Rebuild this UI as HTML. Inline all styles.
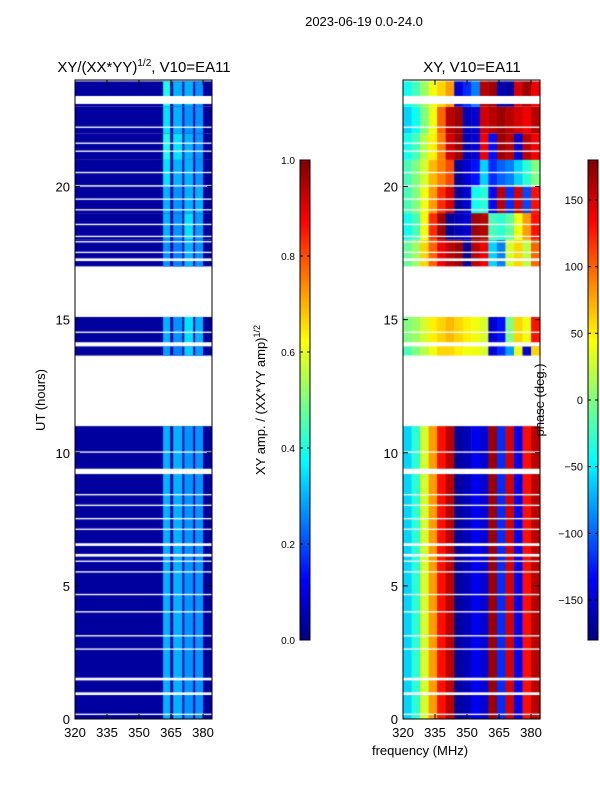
<!DOCTYPE html>
<html><head><meta charset="utf-8"><style>
html,body{margin:0;padding:0;background:#fff;}
#wrap{position:relative;width:600px;height:800px;overflow:hidden;font-family:"Liberation Sans",sans-serif;}
canvas{position:absolute;left:0;top:0;}
svg{position:absolute;left:0;top:0;}
</style></head><body>
<div id="wrap">
<canvas id="cv" width="600" height="800"></canvas>
<svg id="sv" width="600" height="800"></svg>
</div>
<script>
// ---- data ----
const hours = [0,1,2,3,4,5,6,7,8,9,10,11,12,13,14,15,16,17,18,19,20,21,22,23];
const phaseBinsMHz = [320,324,328,332,336,340,344,348,352,356,360,364,368,372,376,380];
const phase = [
 [-60,-40,0,40,90,140,170,-170,-150,-130,150,-100,80,-60,120,30],
 [-90,-60,-20,30,80,130,160,-170,-140,-120,100,-150,160,40,-80,140],
 [-40,-30,-10,30,80,130,160,-170,-150,-130,140,-120,60,-40,90,-100],
 [-30,-20,0,40,90,140,170,-160,-140,-110,-60,60,120,20,100,-30],
 [-30,-25,0,40,100,150,170,-160,-140,-100,30,90,-60,40,80,-20],
 [-40,-30,0,40,100,150,175,-160,-140,-90,120,60,-100,80,40,-60],
 [-30,-20,10,50,110,150,175,-170,-150,-120,140,-130,90,-150,120,-90],
 [-50,-40,0,50,110,150,170,-170,-150,-140,-120,160,140,-150,130,150],
 [-50,-30,10,60,110,150,170,-170,-150,-140,130,-140,150,-120,160,140],
 [-40,-20,20,70,120,150,170,-170,-150,-160,140,-130,40,-160,100,20],
 [-60,-30,30,80,130,160,-170,-160,-140,-150,170,-120,150,-140,130,160],
 null, null,
 [-20,0,20,40,60,60,50,40,40,30,-150,-120,-80,40,-150,60],
 [0,10,30,50,60,70,60,50,40,30,-150,-130,0,60,40,130],
 null, null,
 [-10,10,60,100,140,160,170,-170,160,140,-60,-90,30,60,20,100],
 [-40,-20,40,120,170,-170,-160,-150,170,160,-20,-30,-10,40,80,130],
 [-20,0,40,80,120,150,-170,-150,-40,-30,-140,160,-120,150,-110,130],
 [-20,0,30,70,90,110,-170,-150,-130,-60,-120,-100,-90,-60,-30,0],
 [-40,-20,20,50,90,150,170,-160,-150,140,-130,170,160,-150,160,140],
 [-60,-40,0,40,100,160,170,-160,-150,150,160,170,160,150,140,160],
 [-40,-20,10,40,60,80,-150,-120,-90,160,170,-160,-170,150,170,140]
];
const stripeStart = [361.3,366.0,371.2,376.3];
const stripeEnd = [364.6,370.3,375.4,380.0];
const ampBackground = 0.03;
const amp = [
 [.4,.35,.3,.28],[.45,.4,.35,.3],[.4,.35,.35,.28],[.35,.4,.3,.28],[.35,.3,.35,.28],
 [.3,.35,.28,.27],[.3,.35,.3,.27],[.35,.4,.3,.28],[.3,.27,.3,.25],[.3,.35,.3,.27],
 [.3,.3,.27,.27],null,null,[.28,.25,.33,.28],[.3,.27,.35,.3],null,null,
 [.27,.25,.3,.27],[.3,.27,.35,.28],[.3,.27,.3,.3],[.35,.3,.3,.27],[.4,.35,.3,.27],
 [.35,.3,.27,.27],[.4,.3,.3,.27]
];
const dataStart = [0,0,0,0,0,0,0,0,0,0,0,null,null,13.65,14,null,null,17,18,19,20,21,22,23];
const dataEnd =   [1,2,3,4,5,6,7,8,9,10,11,null,null,14,15.1,null,null,18,19,20,21,22,23,23.95];
const gaps = [[0.15,0.2],[0.9,1.0],[1.45,1.55],[2.6,2.65],[3.1,3.15],[4.0,4.05],[4.65,4.7],[5.5,5.55],[5.9,5.95],[6.1,6.2],[6.5,6.6],[7.1,7.15],[7.5,7.55],[8.0,8.05],[8.4,8.45],[9.2,9.4],[10.0,10.05],[14.0,14.15],[14.5,14.55],[17.2,17.3],[17.5,17.55],[17.9,17.95],[18.1,18.15],[18.55,18.6],[19.1,19.15],[19.5,19.55],[20.0,20.05],[20.5,20.55],[21.3,21.35],[21.6,21.65],[22.2,22.25],[23.1,23.4]];
const xTicks = [320,335,350,365,380];
const yTicks = [0,5,10,15,20];
const ampTicks = [0.0,0.2,0.4,0.6,0.8,1.0];
const phTicks = [-150,-100,-50,0,50,100,150];

// ---- geometry ----
const L = {x0:75,x1:212}, R = {x0:403,x1:540}, yTop=80, yBot=719;
const fMin=320, fMax=384.2, tMin=0, tMax=24;
function xs(p,f){return p.x0+(f-fMin)/(fMax-fMin)*(p.x1-p.x0);}
function ys(t){return yBot-(t-tMin)/(tMax-tMin)*(yBot-yTop);}
function jet(v){v=Math.max(0,Math.min(1,v));
 const r=Math.max(0,Math.min(1,1.5-Math.abs(4*v-3)));
 const g=Math.max(0,Math.min(1,1.5-Math.abs(4*v-2)));
 const b=Math.max(0,Math.min(1,1.5-Math.abs(4*v-1)));
 return `rgb(${Math.round(r*255)},${Math.round(g*255)},${Math.round(b*255)})`;}

const cv=document.getElementById('cv'), c=cv.getContext('2d');
c.fillStyle='#fff';c.fillRect(0,0,600,800);
hours.forEach((h,i)=>{
 if(dataStart[i]===null) return;
 const ya=ys(dataEnd[i]), yb=ys(dataStart[i]);
 c.fillStyle=jet(ampBackground);
 c.fillRect(L.x0,ya,L.x1-L.x0,yb-ya);
 amp[i].forEach((a,k)=>{c.fillStyle=jet(a);
  const xa=xs(L,stripeStart[k]), xb=xs(L,stripeEnd[k]); c.fillRect(xa,ya,xb-xa,yb-ya);});
 phase[i].forEach((p,k)=>{c.fillStyle=jet((p+180)/360);
  const xa=xs(R,phaseBinsMHz[k]), xb=xs(R,Math.min(phaseBinsMHz[k]+4,fMax)); c.fillRect(xa,ya,xb-xa+0.5,yb-ya);});
});
c.fillStyle='#fff';
gaps.forEach(g=>{const ya=ys(g[1]),yb=ys(g[0]);c.fillRect(L.x0,ya,L.x1-L.x0,yb-ya);c.fillRect(R.x0,ya,R.x1-R.x0,yb-ya);});
for(let y=160;y<640;y++){const v=1-(y-160)/480;c.fillStyle=jet(v);c.fillRect(300,y,10,1);c.fillRect(588,y,10,1);}

// ---- axes (svg) ----
const NS='http://www.w3.org/2000/svg', sv=document.getElementById('sv');
function el(tag,attrs,txt){const e=document.createElementNS(NS,tag);for(const k in attrs)e.setAttribute(k,attrs[k]);if(txt!==undefined)e.textContent=txt;sv.appendChild(e);return e;}
function ys2(v,a,b){return 640-(v-a)/(b-a)*480;}
[[L,'amp'],[R,'phase']].forEach(([p,n])=>{
 const fr=el('rect',{x:p.x0,y:yTop,width:p.x1-p.x0,height:yBot-yTop,fill:'none',stroke:'#000','stroke-width':1});
 
 
 xTicks.forEach(f=>{const x=xs(p,f);
  el('line',{x1:x,x2:x,y1:yBot,y2:yBot-5,stroke:'#000'});el('line',{x1:x,x2:x,y1:yTop,y2:yTop+5,stroke:'#000'});
  const t=el('text',{x:x,y:737,'font-size':13,'text-anchor':'middle'},String(f));
  
  });
 yTicks.forEach(v=>{const y=ys(v);
  el('line',{x1:p.x0,x2:p.x0+5,y1:y,y2:y,stroke:'#000'});el('line',{x1:p.x1,x2:p.x1-5,y1:y,y2:y,stroke:'#000'});
  const t=el('text',{x:p.x0-5,y:y+5,'font-size':13,'text-anchor':'end'},String(v));
  
  });
});
[[300,ampTicks,v=>ys2(v,0,1),v=>v.toFixed(1),'amp'],[588,phTicks,v=>ys2(v,-180,180),v=>v<0?'\u2212'+(-v):String(v),'phase']].forEach(([x0,ticks,f,fmt,n])=>{
 const r=el('rect',{x:x0,y:160,width:10,height:480,fill:'none',stroke:'#000'});
 
 
 ticks.forEach(v=>{const y=f(v);
  el('line',{x1:x0,x2:x0+3,y1:y,y2:y,stroke:'#000'});el('line',{x1:x0+10,x2:x0+7,y1:y,y2:y,stroke:'#000'});
  const t=el('text',{x:x0-5,y:y+4,'font-size':n==='amp'?10:11,'text-anchor':'end'},fmt(v));
  
  });
});
</script>
<svg width="600" height="800" style="position:absolute;left:0;top:0" font-family="Liberation Sans, sans-serif">
<text x="364" y="26" font-size="13" text-anchor="middle">2023-06-19 0.0-24.0</text>
<text x="144" y="72" font-size="15" text-anchor="middle">XY/(XX*YY)<tspan font-size="10" dy="-6">1/2</tspan><tspan dy="6">, V10=EA11</tspan></text>
<text x="472" y="72" font-size="15" text-anchor="middle">XY, V10=EA11</text>
<text transform="translate(45,400) rotate(-90)" font-size="13" text-anchor="middle">UT (hours)</text>
<text transform="translate(265,400) rotate(-90)" font-size="13" text-anchor="middle">XY amp. / (XX*YY amp)<tspan font-size="9" dy="-5">1/2</tspan></text>
<text transform="translate(544,400) rotate(-90)" font-size="13" text-anchor="middle">phase (deg.)</text>
<text x="420" y="755" font-size="13" text-anchor="middle">frequency (MHz)</text>
</svg>
</body></html>
